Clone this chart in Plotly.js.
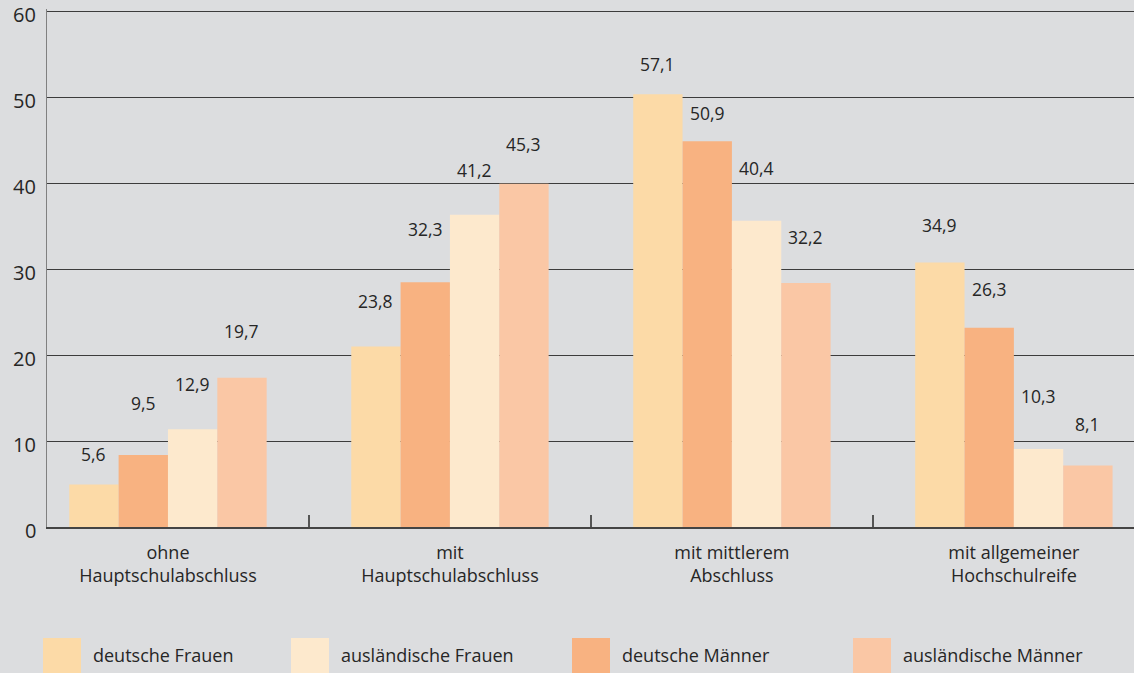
<!DOCTYPE html>
<html>
<head>
<meta charset="utf-8">
<script src="https://cdn.plot.ly/plotly-3.0.1.min.js"></script>
<style>
  html, body { margin: 0; padding: 0; background: #dcdddf; }
  #chart { width: 1134px; height: 673px; }
</style>
</head>
<body>
<div id="chart"></div>
<script>
// ---- data ----
const categories = [
  'ohne<br>Hauptschulabschluss',
  'mit<br>Hauptschulabschluss',
  'mit mittlerem<br>Abschluss',
  'mit allgemeiner<br>Hochschulreife'
];
const seriesNames = ['deutsche Frauen', 'deutsche Männer', 'ausländische Frauen', 'ausländische Männer'];
const deutscheFrauen       = [5.6, 23.8, 57.1, 34.9];
const deutscheMaenner      = [9.5, 32.3, 50.9, 26.3];
const auslaendischeFrauen  = [12.9, 41.2, 40.4, 10.3];
const auslaendischeMaenner = [19.7, 45.3, 32.2, 8.1];
const yTickLabels = [0, 10, 20, 30, 40, 50, 60];
const legendOrder = ['deutsche Frauen', 'ausländische Frauen', 'deutsche Männer', 'ausländische Männer'];

// ---- styles / layout helpers ----
const seriesValues = [deutscheFrauen, deutscheMaenner, auslaendischeFrauen, auslaendischeMaenner];
const colors = {
  'deutsche Frauen': '#fcdaa7',
  'deutsche Männer': '#f8b281',
  'ausländische Frauen': '#fde9cd',
  'ausländische Männer': '#fac7a5'
};
// the original graphic scales its bars to an axis of 0..68 while labelling the ticks 0..60
const axisMax = 68;
const rangePad = 1.005;
const labelLift = [ // pixel lift of each value label above its bar, per series, per category
  [31, 46, 30, 37],
  [52, 53, 28, 39],
  [45, 45, 53, 53],
  [47, 40, 46, 42]
];
const textColor = '#262626';
const font = 'Open Sans, Noto Sans, sans-serif';

const W = 1134, H = 673;
const margin = {l: 47, r: 0, t: 9, b: 146};
const plotW = W - margin.l - margin.r;
const plotH = H - margin.t - margin.b;
const px2paperX = px => (px - margin.l) / plotW;
const px2paperY = py => (H - margin.b - py) / plotH;

const bargap = 0.3;
const nSeries = seriesNames.length;
const barW = (1 - bargap) / nSeries;
const tickPos = yTickLabels.map(v => v * axisMax / 60);

const traces = seriesNames.map((name, s) => ({
  type: 'bar',
  name: name,
  x: categories,
  y: seriesValues[s],
  marker: {color: colors[name], line: {width: 0}},
  hoverinfo: 'x+y+name',
  showlegend: false
}));

const annotations = [];
seriesValues.forEach((vals, s) => {
  vals.forEach((v, c) => {
    annotations.push({
      x: c - (1 - bargap) / 2 + barW * (s + 0.5),
      y: v,
      xref: 'x', yref: 'y',
      text: v.toFixed(1).replace('.', ','),
      showarrow: false,
      xanchor: 'center', yanchor: 'middle',
      yshift: labelLift[s][c],
      font: {family: font, size: 17.5, color: textColor}
    });
  });
});

// y tick labels (sit slightly below their grid lines, as in the original)
yTickLabels.forEach((lab, i) => {
  annotations.push({
    xref: 'paper', yref: 'y',
    x: px2paperX(38), y: tickPos[i],
    xanchor: 'right', yanchor: 'middle',
    yshift: -3,
    text: String(lab), showarrow: false,
    font: {family: font, size: 20, color: textColor}
  });
});

// custom legend with large swatches
const shapes = [];
const legendSwatchLeft = [43, 291, 572, 853];
legendOrder.forEach((name, i) => {
  const x0 = legendSwatchLeft[i];
  shapes.push({
    type: 'rect', xref: 'paper', yref: 'paper',
    x0: px2paperX(x0), x1: px2paperX(x0 + 38),
    y0: px2paperY(638), y1: px2paperY(690),
    fillcolor: colors[name], line: {width: 0}, layer: 'above'
  });
  annotations.push({
    xref: 'paper', yref: 'paper',
    x: px2paperX(x0 + 48), y: px2paperY(655),
    xanchor: 'left', yanchor: 'middle',
    text: name, showarrow: false,
    font: {family: font, size: 18, color: textColor}
  });
});

const layout = {
  width: W, height: H,
  margin: margin,
  paper_bgcolor: '#dcdddf',
  plot_bgcolor: '#dcdddf',
  barmode: 'group',
  bargap: bargap,
  bargroupgap: 0,
  showlegend: false,
  font: {family: font, color: textColor},
  xaxis: {
    type: 'category',
    range: [-0.429, 3.426],
    showline: true, linecolor: '#444', linewidth: 2,
    ticks: 'inside', tickson: 'boundaries', ticklen: 12,
    tickcolor: '#555', tickwidth: 1.5,
    showgrid: false, zeroline: false,
    tickfont: {family: font, size: 18, color: textColor},
    ticklabelstandoff: 8,
    fixedrange: true
  },
  yaxis: {
    range: [0, axisMax * rangePad],
    tickvals: tickPos,
    showticklabels: false,
    showline: true, linecolor: '#808080', linewidth: 1.5,
    showgrid: true, gridcolor: '#3c3c3c', gridwidth: 1,
    zeroline: false, ticks: '',
    fixedrange: true
  },
  annotations: annotations,
  shapes: shapes
};

Plotly.newPlot('chart', traces, layout, {displayModeBar: false, staticPlot: true});
</script>
</body>
</html>
